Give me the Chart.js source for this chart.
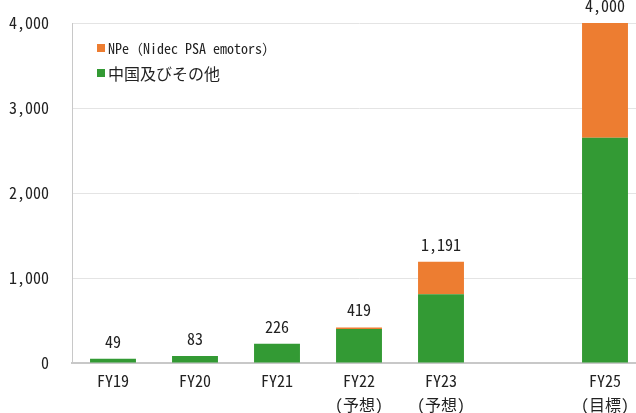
<!DOCTYPE html>
<html><head><meta charset="utf-8">
<script src="https://cdn.jsdelivr.net/npm/chart.js@4"></script>
<style>
html,body{margin:0;padding:0;overflow:hidden;background:#fff;width:636px;height:413px}
#wrap{position:relative;width:650px;height:413px}
.item{position:absolute;left:97px;display:flex;align-items:center;white-space:nowrap;color:#222;height:20px}
.sw{width:8px;height:8px;margin-right:3px;flex:none}
.t1{font-family:"Noto Sans Mono CJK JP","Noto Sans CJK JP",monospace;font-size:14px}
.t2{font-family:"Noto Sans CJK JP",sans-serif;font-size:16px}
</style></head>
<body>
<div id="wrap">
<canvas id="c" width="650" height="413"></canvas>
<div class="item" style="top:38px"><span class="sw" style="background:#ED7D31"></span><span class="t1">NPe（Nidec PSA emotors）</span></div>
<div class="item" style="top:63px"><span class="sw" style="background:#339A34"></span><span class="t2">中国及びその他</span></div>
</div>
<script>
const categories = [['FY19'], ['FY20'], ['FY21'], ['FY22', '(予想)'], ['FY23', '(予想)'], '', ['FY25', '(目標)']];
const otherValues = [49, 83, 226, 400, 810, null, 2650];
const npeValues = [0, 0, 0, 19, 381, null, 1350];
const totals = [49, 83, 226, 419, 1191, null, 4000];
const yTicks = [0, 1000, 2000, 3000, 4000];

const FONT = '"Noto Sans Mono CJK JP","Noto Sans CJK JP",monospace';

const totalLabels = {
  id: 'totalLabels',
  afterDatasetsDraw(chart) {
    const {ctx, scales: {x, y}} = chart;
    ctx.save();
    ctx.font = '16px ' + FONT;
    ctx.fillStyle = '#222';
    ctx.textAlign = 'center';
    ctx.textBaseline = 'middle';
    totals.forEach((v, i) => {
      if (v == null) return;
      ctx.fillText(v.toLocaleString('en-US'), x.getPixelForValue(i), y.getPixelForValue(v) - 17);
    });
    ctx.restore();
  }
};

function draw() {
new Chart(document.getElementById('c'), {
  type: 'bar',
  data: {
    labels: categories,
    datasets: [
      {label: '中国及びその他', data: otherValues, backgroundColor: '#339A34', stack: 's'},
      {label: 'NPe（Nidec PSA emotors）', data: npeValues, backgroundColor: '#ED7D31', stack: 's'}
    ]
  },
  options: {
    responsive: false,
    animation: false,
    devicePixelRatio: 1,
    layout: {padding: {top: 23, right: 4, left: 0, bottom: 0}},
    datasets: {bar: {categoryPercentage: 1, barPercentage: 0.56}},
    plugins: {legend: {display: false}, tooltip: {enabled: false}},
    scales: {
      x: {
        stacked: true,
        grid: {display: false, drawTicks: false},
        border: {display: true, color: '#c8c8c8', width: 2},
        ticks: {color: '#222', font: {family: FONT, size: 16, lineHeight: 1.5}, padding: 6, maxRotation: 0, autoSkip: false},
        afterFit(s) { s.height = 50; s.paddingLeft = 0; s.paddingRight = 0; }
      },
      y: {
        stacked: true,
        min: 0, max: 4000,
        afterBuildTicks(s) { s.ticks = yTicks.map(v => ({value: v})); },
        grid: {color: '#e4e4e4', lineWidth: 1, drawTicks: false},
        border: {display: true, color: '#c8c8c8', width: 1},
        ticks: {color: '#222', font: {family: FONT, size: 16}, padding: 23,
                callback: v => v.toLocaleString('en-US')},
        afterFit(s) { s.width = 72; s.paddingTop = 0; s.paddingBottom = 0; }
      }
    }
  },
  plugins: [totalLabels]
});
}
if (document.fonts && document.fonts.load) {
  Promise.all([document.fonts.load('16px "Noto Sans Mono CJK JP"'), document.fonts.load('16px "Noto Sans CJK JP"')]).then(draw, draw);
} else { draw(); }
</script>
</body></html>
